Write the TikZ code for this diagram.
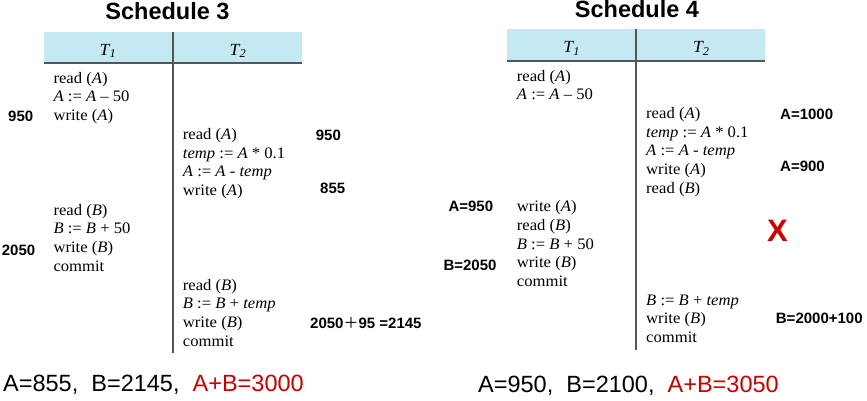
\documentclass[tikz,border=0pt]{standalone}
\usepackage{fontspec}
\newfontfamily\opfont{Liberation Serif}[FakeStretch=1.04]
\newfontfamily\lblfont{Liberation Sans}
\newfontfamily\cjk{Noto Sans CJK SC}
\definecolor{headblue}{RGB}{197,233,243}
\definecolor{rulegray}{RGB}{85,85,85}
\definecolor{tred}{RGB}{200,0,0}
\tikzset{
  op/.style={anchor=base west, inner sep=0pt, font=\opfont\fontsize{16}{18}\selectfont},
  colhead/.style={anchor=base, inner sep=0pt, font=\opfont\fontsize{17}{19}\selectfont},
  val/.style={anchor=base west, inner sep=0pt, font=\lblfont\bfseries\fontsize{15}{18}\selectfont},
  title/.style={anchor=base, inner sep=0pt, font=\lblfont\bfseries\fontsize{23.5}{26}\selectfont},
  total/.style={anchor=base west, inner sep=0pt, font=\lblfont\fontsize{23.5}{26}\selectfont},
  rule/.style={draw=rulegray, line width=1.6pt},
}
\begin{document}
\begin{tikzpicture}[x=1pt,y=1pt]
    \useasboundingbox (0,0) rectangle (867,-400);
    % Schedule 3
    \draw (167.5,-19) node[title] (s3) {Schedule 3};
    \fill [headblue] (44,-32) rectangle (302,-63);
    \draw [rule] (44,-63) -- (302,-63);
    \draw [rule] (173,-32) -- (173,-353);
    \draw (108,-55) node[colhead] (s3ta) {\textit{T\textsubscript{1}}};
    \draw (238,-55) node[colhead] (s3tb) {\textit{T\textsubscript{2}}};
    \draw (53.3,-83) node[op] (s3a1) {read (\textit{A})};
    \draw (53.3,-101.7) node[op] (s3a2) {\textit{A} := \textit{A} – 50};
    \draw (53.3,-120.4) node[op] (s3a3) {write (\textit{A})};
    \draw (182.7,-139.3) node[op] (s3b1) {read (\textit{A})};
    \draw (182.7,-158) node[op] (s3b2) {\textit{temp} := \textit{A} * 0.1};
    \draw (182.7,-176.7) node[op] (s3b3) {\textit{A} := \textit{A} - \textit{temp}};
    \draw (182.7,-195.4) node[op] (s3b4) {write (\textit{A})};
    \draw (53.3,-215) node[op] (s3a4) {read (\textit{B})};
    \draw (53.3,-233.7) node[op] (s3a5) {\textit{B} := \textit{B} + 50};
    \draw (53.3,-252.4) node[op] (s3a6) {write (\textit{B})};
    \draw (53.3,-271.1) node[op] (s3a7) {commit};
    \draw (182.7,-290) node[op] (s3b5) {read (\textit{B})};
    \draw (182.7,-308.7) node[op] (s3b6) {\textit{B} := \textit{B} + \textit{temp}};
    \draw (182.7,-327.4) node[op] (s3b7) {write (\textit{B})};
    \draw (182.7,-346.1) node[op] (s3b8) {commit};
    \draw (8,-121.7) node[val] (s3v1) {950};
    \draw (315.7,-140) node[val] (s3v2) {950};
    \draw (320,-193.5) node[val] (s3v3) {855};
    \draw (1.7,-255) node[val] (s3v4) {2050};
    \draw (310,-328) node[val] (s3v5) {2050{\cjk\mdseries ＋}95 =2145};
    \draw (3,-391.7) node[total] (s3sum) {A=855,\ \ B=2145,\ \ \textcolor{tred}{A+B=3000}};
    % Schedule 4
    \draw (637,-17.3) node[title] (s4) {Schedule 4};
    \fill [headblue] (507.3,-29.3) rectangle (765,-60.7);
    \draw [rule] (507.3,-60.7) -- (765,-60.7);
    \draw [rule] (636,-29.3) -- (636,-350);
    \draw (571.7,-52.7) node[colhead] (s4ta) {\textit{T\textsubscript{1}}};
    \draw (701.3,-52.7) node[colhead] (s4tb) {\textit{T\textsubscript{2}}};
    \draw (516.7,-81) node[op] (s4a1) {read (\textit{A})};
    \draw (516.7,-99.6) node[op] (s4a2) {\textit{A} := \textit{A} – 50};
    \draw (646,-118.3) node[op] (s4b1) {read (\textit{A})};
    \draw (646,-137) node[op] (s4b2) {\textit{temp} := \textit{A} * 0.1};
    \draw (646,-155.7) node[op] (s4b3) {\textit{A} := \textit{A} - \textit{temp}};
    \draw (646,-174.3) node[op] (s4b4) {write (\textit{A})};
    \draw (646,-193) node[op] (s4b5) {read (\textit{B})};
    \draw (516.7,-211.7) node[op] (s4a3) {write (\textit{A})};
    \draw (516.7,-230.3) node[op] (s4a4) {read (\textit{B})};
    \draw (516.7,-249) node[op] (s4a5) {\textit{B} := \textit{B} + 50};
    \draw (516.7,-267.7) node[op] (s4a6) {write (\textit{B})};
    \draw (516.7,-286.3) node[op] (s4a7) {commit};
    \draw (646,-305) node[op] (s4b6) {\textit{B} := \textit{B} + \textit{temp}};
    \draw (646,-323.7) node[op] (s4b7) {write (\textit{B})};
    \draw (646,-342.3) node[op] (s4b8) {commit};
    \draw (780,-119) node[val] (s4v1) {A=1000};
    \draw (780,-171.7) node[val] (s4v2) {A=900};
    \draw (448.3,-211) node[val] (s4v3) {A=950};
    \draw (443.3,-270.7) node[val] (s4v4) {B=2050};
    \draw (775.7,-323.3) node[val] (s4v5) {B=2000+100};
    \draw (767,-241) node[val, text=tred, font=\lblfont\bfseries\fontsize{31}{34}\selectfont] (s4x) {X};
    \draw (478,-392.7) node[total] (s4sum) {A=950,\ \ B=2100,\ \ \textcolor{tred}{A+B=3050}};
\end{tikzpicture}
\end{document}
